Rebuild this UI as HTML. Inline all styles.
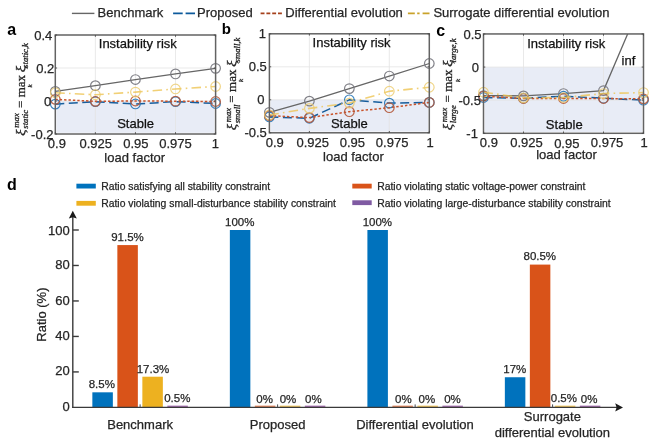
<!DOCTYPE html>
<html><head><meta charset="utf-8"><title>Stability comparison</title>
<style>
html,body{margin:0;padding:0;background:#fff;}
body{width:654px;height:447px;overflow:hidden;}
svg{display:block;will-change:transform;filter:blur(0.3px);font-family:"Liberation Sans", sans-serif;}
</style></head>
<body>
<svg width="654" height="447" viewBox="0 0 654 447">
<rect width="654" height="447" fill="#fff"/>
<line x1="71.9" y1="13.4" x2="94.4" y2="13.4" stroke="#666" stroke-width="1.4"/>
<text x="97.6" y="17.4" font-size="13" text-anchor="start" fill="#262626" stroke="#262626" stroke-width="0.25" >Benchmark</text>
<line x1="173.1" y1="13.4" x2="195.0" y2="13.4" stroke="#0c5a9c" stroke-width="1.8" stroke-dasharray="9.6,2.9"/>
<text x="197.1" y="17.4" font-size="13" text-anchor="start" fill="#262626" stroke="#262626" stroke-width="0.25" >Proposed</text>
<line x1="260.6" y1="13.4" x2="282.2" y2="13.4" stroke="#a5401c" stroke-width="1.8" stroke-dasharray="3.9,1.9"/>
<text x="285.3" y="17.4" font-size="13" text-anchor="start" fill="#262626" stroke="#262626" stroke-width="0.25" >Differential evolution</text>
<line x1="407.9" y1="13.4" x2="430.1" y2="13.4" stroke="#c9a22a" stroke-width="1.8" stroke-dasharray="6.9,2.4,2.4,3"/>
<text x="433.4" y="17.4" font-size="13" text-anchor="start" fill="#262626" stroke="#262626" stroke-width="0.25" >Surrogate differential evolution</text>
<text x="7.2" y="35.4" font-size="16" text-anchor="start" fill="#000" font-weight="bold">a</text>
<rect x="55.3" y="35" width="160.3" height="99" fill="#fff"/>
<rect x="56.5" y="101" width="157.9" height="31.8" fill="#e8ecf6"/>
<line x1="95.38" y1="35" x2="95.38" y2="134" stroke="#e3e3e3" stroke-width="0.8"/>
<line x1="135.45" y1="35" x2="135.45" y2="134" stroke="#e3e3e3" stroke-width="0.8"/>
<line x1="175.52" y1="35" x2="175.52" y2="134" stroke="#e3e3e3" stroke-width="0.8"/>
<line x1="55.3" y1="68" x2="215.6" y2="68" stroke="#e3e3e3" stroke-width="0.8"/>
<line x1="55.3" y1="101" x2="215.6" y2="101" stroke="#e3e3e3" stroke-width="0.8"/>
<text x="137.8" y="47.9" font-size="13" text-anchor="middle" fill="#111" stroke="#111" stroke-width="0.25" >Instability risk</text>
<text x="135.6" y="128.4" font-size="13" text-anchor="middle" fill="#111" stroke="#111" stroke-width="0.25" >Stable</text>
<clipPath id="clipa"><rect x="49.3" y="35" width="172.3" height="105"/></clipPath>
<g clip-path="url(#clipa)">
<polyline points="55.3,91.43 95.38,85.66 135.45,79.55 175.52,73.94 215.6,68.33" fill="none" stroke="#666666" stroke-width="1.3"/>
<circle cx="55.3" cy="91.43" r="4.8" fill="none" stroke="#7a7a82" stroke-width="1.2" stroke-opacity="0.95"/>
<circle cx="95.38" cy="85.66" r="4.8" fill="none" stroke="#7a7a82" stroke-width="1.2" stroke-opacity="0.95"/>
<circle cx="135.45" cy="79.55" r="4.8" fill="none" stroke="#7a7a82" stroke-width="1.2" stroke-opacity="0.95"/>
<circle cx="175.52" cy="73.94" r="4.8" fill="none" stroke="#7a7a82" stroke-width="1.2" stroke-opacity="0.95"/>
<circle cx="215.6" cy="68.33" r="4.8" fill="none" stroke="#7a7a82" stroke-width="1.2" stroke-opacity="0.95"/>
<polyline points="55.3,104.14 95.38,101.66 135.45,103.97 175.52,101.66 215.6,103.48" fill="none" stroke="#175d9c" stroke-width="1.5" stroke-dasharray="9,4.5"/>
<circle cx="55.3" cy="104.14" r="4.8" fill="none" stroke="#2677b8" stroke-width="1.2" stroke-opacity="0.9"/>
<circle cx="95.38" cy="101.66" r="4.8" fill="none" stroke="#2677b8" stroke-width="1.2" stroke-opacity="0.9"/>
<circle cx="135.45" cy="103.97" r="4.8" fill="none" stroke="#2677b8" stroke-width="1.2" stroke-opacity="0.9"/>
<circle cx="175.52" cy="101.66" r="4.8" fill="none" stroke="#2677b8" stroke-width="1.2" stroke-opacity="0.9"/>
<circle cx="215.6" cy="103.48" r="4.8" fill="none" stroke="#2677b8" stroke-width="1.2" stroke-opacity="0.9"/>
<polyline points="55.3,99.35 95.38,101.33 135.45,101 175.52,101.17 215.6,101.5" fill="none" stroke="#c9532a" stroke-width="1.5" stroke-dasharray="2.4,2"/>
<circle cx="55.3" cy="99.35" r="4.8" fill="none" stroke="#b4583a" stroke-width="1.2" stroke-opacity="0.9"/>
<circle cx="95.38" cy="101.33" r="4.8" fill="none" stroke="#b4583a" stroke-width="1.2" stroke-opacity="0.9"/>
<circle cx="135.45" cy="101" r="4.8" fill="none" stroke="#b4583a" stroke-width="1.2" stroke-opacity="0.9"/>
<circle cx="175.52" cy="101.17" r="4.8" fill="none" stroke="#b4583a" stroke-width="1.2" stroke-opacity="0.9"/>
<circle cx="215.6" cy="101.5" r="4.8" fill="none" stroke="#b4583a" stroke-width="1.2" stroke-opacity="0.9"/>
<polyline points="55.3,92.75 95.38,94.73 135.45,92.09 175.52,88.96 215.6,86.48" fill="none" stroke="#edc454" stroke-width="1.6" stroke-dasharray="9.5,4.2,1.6,4.2" stroke-opacity="0.8"/>
<circle cx="55.3" cy="92.75" r="4.8" fill="none" stroke="#eccb6a" stroke-width="1.2" stroke-opacity="0.8"/>
<circle cx="95.38" cy="94.73" r="4.8" fill="none" stroke="#eccb6a" stroke-width="1.2" stroke-opacity="0.8"/>
<circle cx="135.45" cy="92.09" r="4.8" fill="none" stroke="#eccb6a" stroke-width="1.2" stroke-opacity="0.8"/>
<circle cx="175.52" cy="88.96" r="4.8" fill="none" stroke="#eccb6a" stroke-width="1.2" stroke-opacity="0.8"/>
<circle cx="215.6" cy="86.48" r="4.8" fill="none" stroke="#eccb6a" stroke-width="1.2" stroke-opacity="0.8"/>
</g>
<rect x="55.3" y="35" width="160.3" height="99" fill="none" stroke="#636363" stroke-width="1.5"/>
<line x1="55.3" y1="134" x2="55.3" y2="132.2" stroke="#4a4a4a" stroke-width="0.9"/>
<line x1="55.3" y1="35" x2="55.3" y2="36.8" stroke="#4a4a4a" stroke-width="0.9"/>
<line x1="95.38" y1="134" x2="95.38" y2="132.2" stroke="#4a4a4a" stroke-width="0.9"/>
<line x1="95.38" y1="35" x2="95.38" y2="36.8" stroke="#4a4a4a" stroke-width="0.9"/>
<line x1="135.45" y1="134" x2="135.45" y2="132.2" stroke="#4a4a4a" stroke-width="0.9"/>
<line x1="135.45" y1="35" x2="135.45" y2="36.8" stroke="#4a4a4a" stroke-width="0.9"/>
<line x1="175.52" y1="134" x2="175.52" y2="132.2" stroke="#4a4a4a" stroke-width="0.9"/>
<line x1="175.52" y1="35" x2="175.52" y2="36.8" stroke="#4a4a4a" stroke-width="0.9"/>
<line x1="215.6" y1="134" x2="215.6" y2="132.2" stroke="#4a4a4a" stroke-width="0.9"/>
<line x1="215.6" y1="35" x2="215.6" y2="36.8" stroke="#4a4a4a" stroke-width="0.9"/>
<line x1="55.3" y1="35" x2="57.1" y2="35" stroke="#4a4a4a" stroke-width="0.9"/>
<line x1="215.6" y1="35" x2="213.8" y2="35" stroke="#4a4a4a" stroke-width="0.9"/>
<line x1="55.3" y1="68" x2="57.1" y2="68" stroke="#4a4a4a" stroke-width="0.9"/>
<line x1="215.6" y1="68" x2="213.8" y2="68" stroke="#4a4a4a" stroke-width="0.9"/>
<line x1="55.3" y1="101" x2="57.1" y2="101" stroke="#4a4a4a" stroke-width="0.9"/>
<line x1="215.6" y1="101" x2="213.8" y2="101" stroke="#4a4a4a" stroke-width="0.9"/>
<line x1="55.3" y1="134" x2="57.1" y2="134" stroke="#4a4a4a" stroke-width="0.9"/>
<line x1="215.6" y1="134" x2="213.8" y2="134" stroke="#4a4a4a" stroke-width="0.9"/>
<text x="56.9" y="148.3" font-size="13" text-anchor="middle" fill="#262626" stroke="#262626" stroke-width="0.25" >0.9</text>
<text x="95.78" y="148.3" font-size="13" text-anchor="middle" fill="#262626" stroke="#262626" stroke-width="0.25" >0.925</text>
<text x="135.95" y="148.3" font-size="13" text-anchor="middle" fill="#262626" stroke="#262626" stroke-width="0.25" >0.95</text>
<text x="175.52" y="148.3" font-size="13" text-anchor="middle" fill="#262626" stroke="#262626" stroke-width="0.25" >0.975</text>
<text x="215.4" y="148.3" font-size="13" text-anchor="middle" fill="#262626" stroke="#262626" stroke-width="0.25" >1</text>
<text x="52.3" y="39.65" font-size="13" text-anchor="end" fill="#262626" stroke="#262626" stroke-width="0.25" >0.4</text>
<text x="54.3" y="72.65" font-size="13" text-anchor="end" fill="#262626" stroke="#262626" stroke-width="0.25" >0.2</text>
<text x="51.2" y="105.65" font-size="13" text-anchor="end" fill="#262626" stroke="#262626" stroke-width="0.25" >0</text>
<text x="53.5" y="138.65" font-size="13" text-anchor="end" fill="#262626" stroke="#262626" stroke-width="0.25" >-0.2</text>
<text x="134.7" y="162.2" font-size="13" text-anchor="middle" fill="#262626" stroke="#262626" stroke-width="0.25" >load factor</text>
<g transform="translate(24.7,135.7) rotate(-90)" font-family="Liberation Serif, serif" fill="#262626" stroke="#262626" stroke-width="0.3">
<text x="0" y="0" font-size="13" font-style="italic" transform="scale(1.15,1)">&#958;</text>
<text x="8.0" y="-5.4" font-size="8.7" font-style="italic">max</text>
<text x="7.0" y="3.5" font-size="8.7" font-style="italic">static</text>
<text x="27.6" y="0" font-size="13">=</text>
<text x="38.4" y="0" font-size="13">max</text>
<text x="48.3" y="7.4" font-size="7" font-style="italic">k</text>
<text x="55.2" y="0" font-size="13" font-style="italic" transform="scale(1.15,1)">&#958;</text>
<text x="67.8" y="3.5" font-size="8.7" font-style="italic">static,k</text>
</g>
<text x="221.7" y="33.7" font-size="15" text-anchor="start" fill="#000" font-weight="bold">b</text>
<rect x="269.4" y="33.8" width="159.9" height="99" fill="#fff"/>
<rect x="270.6" y="99.8" width="157.5" height="31.8" fill="#e8ecf6"/>
<line x1="309.38" y1="33.8" x2="309.38" y2="132.8" stroke="#e3e3e3" stroke-width="0.8"/>
<line x1="349.35" y1="33.8" x2="349.35" y2="132.8" stroke="#e3e3e3" stroke-width="0.8"/>
<line x1="389.32" y1="33.8" x2="389.32" y2="132.8" stroke="#e3e3e3" stroke-width="0.8"/>
<line x1="269.4" y1="66.8" x2="429.3" y2="66.8" stroke="#e3e3e3" stroke-width="0.8"/>
<line x1="269.4" y1="99.8" x2="429.3" y2="99.8" stroke="#e3e3e3" stroke-width="0.8"/>
<text x="351.6" y="47.2" font-size="13" text-anchor="middle" fill="#111" stroke="#111" stroke-width="0.25" >Instability risk</text>
<text x="349.4" y="127.8" font-size="13" text-anchor="middle" fill="#111" stroke="#111" stroke-width="0.25" >Stable</text>
<clipPath id="clipb"><rect x="263.4" y="33.8" width="171.9" height="105"/></clipPath>
<g clip-path="url(#clipb)">
<polyline points="269.4,112.34 309.38,101.12 349.35,88.58 389.32,76.04 429.3,63.5" fill="none" stroke="#666666" stroke-width="1.3"/>
<circle cx="269.4" cy="112.34" r="4.8" fill="none" stroke="#7a7a82" stroke-width="1.2" stroke-opacity="0.95"/>
<circle cx="309.38" cy="101.12" r="4.8" fill="none" stroke="#7a7a82" stroke-width="1.2" stroke-opacity="0.95"/>
<circle cx="349.35" cy="88.58" r="4.8" fill="none" stroke="#7a7a82" stroke-width="1.2" stroke-opacity="0.95"/>
<circle cx="389.32" cy="76.04" r="4.8" fill="none" stroke="#7a7a82" stroke-width="1.2" stroke-opacity="0.95"/>
<circle cx="429.3" cy="63.5" r="4.8" fill="none" stroke="#7a7a82" stroke-width="1.2" stroke-opacity="0.95"/>
<polyline points="269.4,116.96 309.38,118.28 349.35,99.8 389.32,103.1 429.3,102.44" fill="none" stroke="#175d9c" stroke-width="1.5" stroke-dasharray="9,4.5"/>
<circle cx="269.4" cy="116.96" r="4.8" fill="none" stroke="#2677b8" stroke-width="1.2" stroke-opacity="0.9"/>
<circle cx="309.38" cy="118.28" r="4.8" fill="none" stroke="#2677b8" stroke-width="1.2" stroke-opacity="0.9"/>
<circle cx="349.35" cy="99.8" r="4.8" fill="none" stroke="#2677b8" stroke-width="1.2" stroke-opacity="0.9"/>
<circle cx="389.32" cy="103.1" r="4.8" fill="none" stroke="#2677b8" stroke-width="1.2" stroke-opacity="0.9"/>
<circle cx="429.3" cy="102.44" r="4.8" fill="none" stroke="#2677b8" stroke-width="1.2" stroke-opacity="0.9"/>
<polyline points="269.4,115.64 309.38,117.62 349.35,111.68 389.32,107.72 429.3,102.44" fill="none" stroke="#c9532a" stroke-width="1.5" stroke-dasharray="2.4,2"/>
<circle cx="269.4" cy="115.64" r="4.8" fill="none" stroke="#b4583a" stroke-width="1.2" stroke-opacity="0.9"/>
<circle cx="309.38" cy="117.62" r="4.8" fill="none" stroke="#b4583a" stroke-width="1.2" stroke-opacity="0.9"/>
<circle cx="349.35" cy="111.68" r="4.8" fill="none" stroke="#b4583a" stroke-width="1.2" stroke-opacity="0.9"/>
<circle cx="389.32" cy="107.72" r="4.8" fill="none" stroke="#b4583a" stroke-width="1.2" stroke-opacity="0.9"/>
<circle cx="429.3" cy="102.44" r="4.8" fill="none" stroke="#b4583a" stroke-width="1.2" stroke-opacity="0.9"/>
<polyline points="269.4,114.98 309.38,108.38 349.35,103.1 389.32,91.22 429.3,87.26" fill="none" stroke="#edc454" stroke-width="1.6" stroke-dasharray="9.5,4.2,1.6,4.2" stroke-opacity="0.8"/>
<circle cx="269.4" cy="114.98" r="4.8" fill="none" stroke="#eccb6a" stroke-width="1.2" stroke-opacity="0.8"/>
<circle cx="309.38" cy="108.38" r="4.8" fill="none" stroke="#eccb6a" stroke-width="1.2" stroke-opacity="0.8"/>
<circle cx="349.35" cy="103.1" r="4.8" fill="none" stroke="#eccb6a" stroke-width="1.2" stroke-opacity="0.8"/>
<circle cx="389.32" cy="91.22" r="4.8" fill="none" stroke="#eccb6a" stroke-width="1.2" stroke-opacity="0.8"/>
<circle cx="429.3" cy="87.26" r="4.8" fill="none" stroke="#eccb6a" stroke-width="1.2" stroke-opacity="0.8"/>
</g>
<rect x="269.4" y="33.8" width="159.9" height="99" fill="none" stroke="#636363" stroke-width="1.5"/>
<line x1="269.4" y1="132.8" x2="269.4" y2="131" stroke="#4a4a4a" stroke-width="0.9"/>
<line x1="269.4" y1="33.8" x2="269.4" y2="35.6" stroke="#4a4a4a" stroke-width="0.9"/>
<line x1="309.38" y1="132.8" x2="309.38" y2="131" stroke="#4a4a4a" stroke-width="0.9"/>
<line x1="309.38" y1="33.8" x2="309.38" y2="35.6" stroke="#4a4a4a" stroke-width="0.9"/>
<line x1="349.35" y1="132.8" x2="349.35" y2="131" stroke="#4a4a4a" stroke-width="0.9"/>
<line x1="349.35" y1="33.8" x2="349.35" y2="35.6" stroke="#4a4a4a" stroke-width="0.9"/>
<line x1="389.32" y1="132.8" x2="389.32" y2="131" stroke="#4a4a4a" stroke-width="0.9"/>
<line x1="389.32" y1="33.8" x2="389.32" y2="35.6" stroke="#4a4a4a" stroke-width="0.9"/>
<line x1="429.3" y1="132.8" x2="429.3" y2="131" stroke="#4a4a4a" stroke-width="0.9"/>
<line x1="429.3" y1="33.8" x2="429.3" y2="35.6" stroke="#4a4a4a" stroke-width="0.9"/>
<line x1="269.4" y1="33.8" x2="271.2" y2="33.8" stroke="#4a4a4a" stroke-width="0.9"/>
<line x1="429.3" y1="33.8" x2="427.5" y2="33.8" stroke="#4a4a4a" stroke-width="0.9"/>
<line x1="269.4" y1="66.8" x2="271.2" y2="66.8" stroke="#4a4a4a" stroke-width="0.9"/>
<line x1="429.3" y1="66.8" x2="427.5" y2="66.8" stroke="#4a4a4a" stroke-width="0.9"/>
<line x1="269.4" y1="99.8" x2="271.2" y2="99.8" stroke="#4a4a4a" stroke-width="0.9"/>
<line x1="429.3" y1="99.8" x2="427.5" y2="99.8" stroke="#4a4a4a" stroke-width="0.9"/>
<line x1="269.4" y1="132.8" x2="271.2" y2="132.8" stroke="#4a4a4a" stroke-width="0.9"/>
<line x1="429.3" y1="132.8" x2="427.5" y2="132.8" stroke="#4a4a4a" stroke-width="0.9"/>
<text x="274.8" y="146.5" font-size="13" text-anchor="middle" fill="#262626" stroke="#262626" stroke-width="0.25" >0.9</text>
<text x="312.68" y="146.5" font-size="13" text-anchor="middle" fill="#262626" stroke="#262626" stroke-width="0.25" >0.925</text>
<text x="352.45" y="146.5" font-size="13" text-anchor="middle" fill="#262626" stroke="#262626" stroke-width="0.25" >0.95</text>
<text x="392.12" y="146.5" font-size="13" text-anchor="middle" fill="#262626" stroke="#262626" stroke-width="0.25" >0.975</text>
<text x="430" y="146.5" font-size="13" text-anchor="middle" fill="#262626" stroke="#262626" stroke-width="0.25" >1</text>
<text x="266" y="38.45" font-size="13" text-anchor="end" fill="#262626" stroke="#262626" stroke-width="0.25" >1</text>
<text x="266.8" y="71.45" font-size="13" text-anchor="end" fill="#262626" stroke="#262626" stroke-width="0.25" >0.5</text>
<text x="264.6" y="104.45" font-size="13" text-anchor="end" fill="#262626" stroke="#262626" stroke-width="0.25" >0</text>
<text x="266.8" y="137.45" font-size="13" text-anchor="end" fill="#262626" stroke="#262626" stroke-width="0.25" >-0.5</text>
<text x="353.4" y="160.6" font-size="13" text-anchor="middle" fill="#262626" stroke="#262626" stroke-width="0.25" >load factor</text>
<g transform="translate(236,130.3) rotate(-90)" font-family="Liberation Serif, serif" fill="#262626" stroke="#262626" stroke-width="0.3">
<text x="0" y="0" font-size="13" font-style="italic" transform="scale(1.15,1)">&#958;</text>
<text x="8.0" y="-5.4" font-size="8.7" font-style="italic">max</text>
<text x="7.0" y="3.5" font-size="8.7" font-style="italic">small</text>
<text x="27.6" y="0" font-size="13">=</text>
<text x="38.4" y="0" font-size="13">max</text>
<text x="48.3" y="7.4" font-size="7" font-style="italic">k</text>
<text x="55.2" y="0" font-size="13" font-style="italic" transform="scale(1.15,1)">&#958;</text>
<text x="67.8" y="3.5" font-size="8.7" font-style="italic">small,k</text>
</g>
<text x="436.2" y="35.5" font-size="16" text-anchor="start" fill="#000" font-weight="bold">c</text>
<rect x="483.5" y="33.95" width="160" height="99.35" fill="#fff"/>
<rect x="484.7" y="67.07" width="157.6" height="65.03" fill="#e8ecf6"/>
<line x1="523.5" y1="33.95" x2="523.5" y2="133.3" stroke="#e3e3e3" stroke-width="0.8"/>
<line x1="563.5" y1="33.95" x2="563.5" y2="133.3" stroke="#e3e3e3" stroke-width="0.8"/>
<line x1="603.5" y1="33.95" x2="603.5" y2="133.3" stroke="#e3e3e3" stroke-width="0.8"/>
<line x1="483.5" y1="67.07" x2="643.5" y2="67.07" stroke="#e3e3e3" stroke-width="0.8"/>
<line x1="483.5" y1="100.18" x2="643.5" y2="100.18" stroke="#e3e3e3" stroke-width="0.8"/>
<text x="566.2" y="47.6" font-size="13" text-anchor="middle" fill="#111" stroke="#111" stroke-width="0.25" >Instability risk</text>
<text x="564.3" y="128.7" font-size="13" text-anchor="middle" fill="#111" stroke="#111" stroke-width="0.25" >Stable</text>
<clipPath id="clipc"><rect x="477.5" y="33.95" width="172" height="105.35"/></clipPath>
<g clip-path="url(#clipc)">
<polyline points="483.5,95.55 523.5,95.88 563.5,93.56 603.5,90.58 628.5,31.95" fill="none" stroke="#666666" stroke-width="1.3"/>
<circle cx="483.5" cy="95.55" r="4.8" fill="none" stroke="#7a7a82" stroke-width="1.2" stroke-opacity="0.95"/>
<circle cx="523.5" cy="95.88" r="4.8" fill="none" stroke="#7a7a82" stroke-width="1.2" stroke-opacity="0.95"/>
<circle cx="563.5" cy="93.56" r="4.8" fill="none" stroke="#7a7a82" stroke-width="1.2" stroke-opacity="0.95"/>
<circle cx="603.5" cy="90.58" r="4.8" fill="none" stroke="#7a7a82" stroke-width="1.2" stroke-opacity="0.95"/>
<polyline points="483.5,97.53 523.5,98.2 563.5,96.21 603.5,98.2 643.5,100.18" fill="none" stroke="#175d9c" stroke-width="1.5" stroke-dasharray="9,4.5"/>
<circle cx="483.5" cy="97.53" r="4.8" fill="none" stroke="#2677b8" stroke-width="1.2" stroke-opacity="0.9"/>
<circle cx="523.5" cy="98.2" r="4.8" fill="none" stroke="#2677b8" stroke-width="1.2" stroke-opacity="0.9"/>
<circle cx="563.5" cy="96.21" r="4.8" fill="none" stroke="#2677b8" stroke-width="1.2" stroke-opacity="0.9"/>
<circle cx="603.5" cy="98.2" r="4.8" fill="none" stroke="#2677b8" stroke-width="1.2" stroke-opacity="0.9"/>
<circle cx="643.5" cy="100.18" r="4.8" fill="none" stroke="#2677b8" stroke-width="1.2" stroke-opacity="0.9"/>
<polyline points="483.5,96.21 523.5,98.53 563.5,98.53 603.5,98.53 643.5,98.86" fill="none" stroke="#c9532a" stroke-width="1.5" stroke-dasharray="2.4,2"/>
<circle cx="483.5" cy="96.21" r="4.8" fill="none" stroke="#b4583a" stroke-width="1.2" stroke-opacity="0.9"/>
<circle cx="523.5" cy="98.53" r="4.8" fill="none" stroke="#b4583a" stroke-width="1.2" stroke-opacity="0.9"/>
<circle cx="563.5" cy="98.53" r="4.8" fill="none" stroke="#b4583a" stroke-width="1.2" stroke-opacity="0.9"/>
<circle cx="603.5" cy="98.53" r="4.8" fill="none" stroke="#b4583a" stroke-width="1.2" stroke-opacity="0.9"/>
<circle cx="643.5" cy="98.86" r="4.8" fill="none" stroke="#b4583a" stroke-width="1.2" stroke-opacity="0.9"/>
<polyline points="483.5,92.24 523.5,97.87 563.5,97.53 603.5,93.56 643.5,92.57" fill="none" stroke="#edc454" stroke-width="1.6" stroke-dasharray="9.5,4.2,1.6,4.2" stroke-opacity="0.8"/>
<circle cx="483.5" cy="92.24" r="4.8" fill="none" stroke="#eccb6a" stroke-width="1.2" stroke-opacity="0.8"/>
<circle cx="523.5" cy="97.87" r="4.8" fill="none" stroke="#eccb6a" stroke-width="1.2" stroke-opacity="0.8"/>
<circle cx="563.5" cy="97.53" r="4.8" fill="none" stroke="#eccb6a" stroke-width="1.2" stroke-opacity="0.8"/>
<circle cx="603.5" cy="93.56" r="4.8" fill="none" stroke="#eccb6a" stroke-width="1.2" stroke-opacity="0.8"/>
<circle cx="643.5" cy="92.57" r="4.8" fill="none" stroke="#eccb6a" stroke-width="1.2" stroke-opacity="0.8"/>
</g>
<rect x="483.5" y="33.95" width="160" height="99.35" fill="none" stroke="#636363" stroke-width="1.5"/>
<line x1="483.5" y1="133.3" x2="483.5" y2="131.5" stroke="#4a4a4a" stroke-width="0.9"/>
<line x1="483.5" y1="33.95" x2="483.5" y2="35.75" stroke="#4a4a4a" stroke-width="0.9"/>
<line x1="523.5" y1="133.3" x2="523.5" y2="131.5" stroke="#4a4a4a" stroke-width="0.9"/>
<line x1="523.5" y1="33.95" x2="523.5" y2="35.75" stroke="#4a4a4a" stroke-width="0.9"/>
<line x1="563.5" y1="133.3" x2="563.5" y2="131.5" stroke="#4a4a4a" stroke-width="0.9"/>
<line x1="563.5" y1="33.95" x2="563.5" y2="35.75" stroke="#4a4a4a" stroke-width="0.9"/>
<line x1="603.5" y1="133.3" x2="603.5" y2="131.5" stroke="#4a4a4a" stroke-width="0.9"/>
<line x1="603.5" y1="33.95" x2="603.5" y2="35.75" stroke="#4a4a4a" stroke-width="0.9"/>
<line x1="643.5" y1="133.3" x2="643.5" y2="131.5" stroke="#4a4a4a" stroke-width="0.9"/>
<line x1="643.5" y1="33.95" x2="643.5" y2="35.75" stroke="#4a4a4a" stroke-width="0.9"/>
<line x1="483.5" y1="33.95" x2="485.3" y2="33.95" stroke="#4a4a4a" stroke-width="0.9"/>
<line x1="643.5" y1="33.95" x2="641.7" y2="33.95" stroke="#4a4a4a" stroke-width="0.9"/>
<line x1="483.5" y1="67.07" x2="485.3" y2="67.07" stroke="#4a4a4a" stroke-width="0.9"/>
<line x1="643.5" y1="67.07" x2="641.7" y2="67.07" stroke="#4a4a4a" stroke-width="0.9"/>
<line x1="483.5" y1="100.18" x2="485.3" y2="100.18" stroke="#4a4a4a" stroke-width="0.9"/>
<line x1="643.5" y1="100.18" x2="641.7" y2="100.18" stroke="#4a4a4a" stroke-width="0.9"/>
<line x1="483.5" y1="133.3" x2="485.3" y2="133.3" stroke="#4a4a4a" stroke-width="0.9"/>
<line x1="643.5" y1="133.3" x2="641.7" y2="133.3" stroke="#4a4a4a" stroke-width="0.9"/>
<text x="488.9" y="146.8" font-size="13" text-anchor="middle" fill="#262626" stroke="#262626" stroke-width="0.25" >0.9</text>
<text x="526.5" y="146.8" font-size="13" text-anchor="middle" fill="#262626" stroke="#262626" stroke-width="0.25" >0.925</text>
<text x="566.8" y="148.1" font-size="13" text-anchor="middle" fill="#262626" stroke="#262626" stroke-width="0.25" >0.95</text>
<text x="607.1" y="146.8" font-size="13" text-anchor="middle" fill="#262626" stroke="#262626" stroke-width="0.25" >0.975</text>
<text x="644.1" y="146.8" font-size="13" text-anchor="middle" fill="#262626" stroke="#262626" stroke-width="0.25" >1</text>
<text x="481.5" y="38.6" font-size="13" text-anchor="end" fill="#262626" stroke="#262626" stroke-width="0.25" >0.5</text>
<text x="479.1" y="71.72" font-size="13" text-anchor="end" fill="#262626" stroke="#262626" stroke-width="0.25" >0</text>
<text x="480.9" y="104.83" font-size="13" text-anchor="end" fill="#262626" stroke="#262626" stroke-width="0.25" >-0.5</text>
<text x="477.9" y="137.95" font-size="13" text-anchor="end" fill="#262626" stroke="#262626" stroke-width="0.25" >-1</text>
<text x="566.5" y="159.1" font-size="13" text-anchor="middle" fill="#262626" stroke="#262626" stroke-width="0.25" >load factor</text>
<g transform="translate(452.4,130.2) rotate(-90)" font-family="Liberation Serif, serif" fill="#262626" stroke="#262626" stroke-width="0.3">
<text x="0" y="0" font-size="13" font-style="italic" transform="scale(1.15,1)">&#958;</text>
<text x="8.0" y="-5.4" font-size="8.7" font-style="italic">max</text>
<text x="7.0" y="3.5" font-size="8.7" font-style="italic">large</text>
<text x="27.6" y="0" font-size="13">=</text>
<text x="38.4" y="0" font-size="13">max</text>
<text x="48.3" y="7.4" font-size="7" font-style="italic">k</text>
<text x="55.2" y="0" font-size="13" font-style="italic" transform="scale(1.15,1)">&#958;</text>
<text x="67.8" y="3.5" font-size="8.7" font-style="italic">large,k</text>
</g>
<text x="621.6" y="64.9" font-size="13" text-anchor="start" fill="#111" stroke="#111" stroke-width="0.25" >inf</text>
<text x="7" y="189.8" font-size="16" text-anchor="start" fill="#000" font-weight="bold">d</text>
<rect x="76.4" y="183.7" width="19.4" height="4.8" fill="#0072BD"/>
<text x="101.2" y="189.9" font-size="10.38" text-anchor="start" fill="#262626" stroke="#262626" stroke-width="0.25" >Ratio satisfying all stability constraint</text>
<rect x="76.4" y="200.9" width="19.4" height="4.8" fill="#EDB120"/>
<text x="101.2" y="207.1" font-size="10.38" text-anchor="start" fill="#262626" stroke="#262626" stroke-width="0.25" >Ratio violating small-disturbance stability constraint</text>
<rect x="352.3" y="183.7" width="19.4" height="4.8" fill="#D95319"/>
<text x="377.2" y="189.9" font-size="10.38" text-anchor="start" fill="#262626" stroke="#262626" stroke-width="0.25" >Ratio violating static voltage-power constraint</text>
<rect x="352.3" y="200.3" width="19.4" height="4.8" fill="#7f5aa2"/>
<text x="377.2" y="207.1" font-size="10.38" text-anchor="start" fill="#262626" stroke="#262626" stroke-width="0.25" >Ratio violating large-disturbance stability constraint</text>
<line x1="72.8" y1="408.0" x2="72.8" y2="216" stroke="#3a3a3a" stroke-width="1.4"/>
<polygon points="72.8,210.7 76.8,218.6 72.8,217.2 68.8,218.6" fill="#1a1a1a"/>
<text x="69.8" y="411.4" font-size="13" text-anchor="end" fill="#262626" stroke="#262626" stroke-width="0.25" >0</text>
<line x1="72.8" y1="371.92" x2="78.8" y2="371.92" stroke="#3a3a3a" stroke-width="1.4"/>
<text x="69.8" y="375.1" font-size="13" text-anchor="end" fill="#262626" stroke="#262626" stroke-width="0.25" >20</text>
<line x1="72.8" y1="336.44" x2="78.8" y2="336.44" stroke="#3a3a3a" stroke-width="1.4"/>
<text x="69.8" y="339.8" font-size="13" text-anchor="end" fill="#262626" stroke="#262626" stroke-width="0.25" >40</text>
<line x1="72.8" y1="300.96" x2="78.8" y2="300.96" stroke="#3a3a3a" stroke-width="1.4"/>
<text x="69.8" y="304.7" font-size="13" text-anchor="end" fill="#262626" stroke="#262626" stroke-width="0.25" >60</text>
<line x1="72.8" y1="265.48" x2="78.8" y2="265.48" stroke="#3a3a3a" stroke-width="1.4"/>
<text x="69.8" y="269" font-size="13" text-anchor="end" fill="#262626" stroke="#262626" stroke-width="0.25" >80</text>
<line x1="72.8" y1="230" x2="78.8" y2="230" stroke="#3a3a3a" stroke-width="1.4"/>
<text x="69.8" y="234.9" font-size="13" text-anchor="end" fill="#262626" stroke="#262626" stroke-width="0.25" >100</text>
<text transform="translate(45.6,314.6) rotate(-90)" x="0" y="0" font-size="13" text-anchor="middle" fill="#262626" stroke="#262626" stroke-width="0.25">Ratio (%)</text>
<rect x="92.35" y="392.32" width="20.5" height="15.08" fill="#0072BD"/>
<text x="101.8" y="388.22" font-size="11.5" text-anchor="middle" fill="#262626" stroke="#262626" stroke-width="0.25" >8.5%</text>
<rect x="117.35" y="245.08" width="20.5" height="162.32" fill="#D95319"/>
<text x="127.5" y="240.98" font-size="11.5" text-anchor="middle" fill="#262626" stroke="#262626" stroke-width="0.25" >91.5%</text>
<rect x="142.35" y="376.71" width="20.5" height="30.69" fill="#EDB120"/>
<text x="152.95" y="372.61" font-size="11.5" text-anchor="middle" fill="#262626" stroke="#262626" stroke-width="0.25" >17.3%</text>
<rect x="167.35" y="405.7" width="20.5" height="1.1" fill="#7E2F8E" fill-opacity="0.85"/>
<text x="177.3" y="402.41" font-size="11.5" text-anchor="middle" fill="#262626" stroke="#262626" stroke-width="0.25" >0.5%</text>
<rect x="229.85" y="230" width="20.5" height="177.4" fill="#0072BD"/>
<text x="239.75" y="225.9" font-size="11.5" text-anchor="middle" fill="#262626" stroke="#262626" stroke-width="0.25" >100%</text>
<rect x="254.85" y="405.7" width="20.5" height="1.1" fill="#D95319" fill-opacity="0.85"/>
<text x="264.65" y="403.3" font-size="11.5" text-anchor="middle" fill="#262626" stroke="#262626" stroke-width="0.25" >0%</text>
<rect x="279.85" y="405.7" width="20.5" height="1.1" fill="#EDB120" fill-opacity="0.85"/>
<text x="287.95" y="403.3" font-size="11.5" text-anchor="middle" fill="#262626" stroke="#262626" stroke-width="0.25" >0%</text>
<rect x="304.85" y="405.7" width="20.5" height="1.1" fill="#7E2F8E" fill-opacity="0.85"/>
<text x="313.35" y="403.3" font-size="11.5" text-anchor="middle" fill="#262626" stroke="#262626" stroke-width="0.25" >0%</text>
<rect x="367.4" y="230" width="20.5" height="177.4" fill="#0072BD"/>
<text x="377.35" y="225.9" font-size="11.5" text-anchor="middle" fill="#262626" stroke="#262626" stroke-width="0.25" >100%</text>
<rect x="392.4" y="405.7" width="20.5" height="1.1" fill="#D95319" fill-opacity="0.85"/>
<text x="403.35" y="403.3" font-size="11.5" text-anchor="middle" fill="#262626" stroke="#262626" stroke-width="0.25" >0%</text>
<rect x="417.4" y="405.7" width="20.5" height="1.1" fill="#EDB120" fill-opacity="0.85"/>
<text x="426.85" y="403.3" font-size="11.5" text-anchor="middle" fill="#262626" stroke="#262626" stroke-width="0.25" >0%</text>
<rect x="442.4" y="405.7" width="20.5" height="1.1" fill="#7E2F8E" fill-opacity="0.85"/>
<text x="452.45" y="403.3" font-size="11.5" text-anchor="middle" fill="#262626" stroke="#262626" stroke-width="0.25" >0%</text>
<rect x="504.85" y="377.24" width="20.5" height="30.16" fill="#0072BD"/>
<text x="514.85" y="373.14" font-size="11.5" text-anchor="middle" fill="#262626" stroke="#262626" stroke-width="0.25" >17%</text>
<rect x="529.85" y="264.59" width="20.5" height="142.81" fill="#D95319"/>
<text x="539.8" y="260.49" font-size="11.5" text-anchor="middle" fill="#262626" stroke="#262626" stroke-width="0.25" >80.5%</text>
<rect x="554.85" y="405.7" width="20.5" height="1.1" fill="#EDB120" fill-opacity="0.85"/>
<text x="563.85" y="402.41" font-size="11.5" text-anchor="middle" fill="#262626" stroke="#262626" stroke-width="0.25" >0.5%</text>
<rect x="579.85" y="405.7" width="20.5" height="1.1" fill="#7E2F8E" fill-opacity="0.85"/>
<text x="589.05" y="403.3" font-size="11.5" text-anchor="middle" fill="#262626" stroke="#262626" stroke-width="0.25" >0%</text>
<line x1="72.1" y1="407.4" x2="617" y2="407.4" stroke="#3a3a3a" stroke-width="1.3"/>
<polygon points="623.0,407.4 615.2,403.2 616.6,407.4 615.2,411.59999999999997" fill="#1a1a1a"/>
<line x1="140.1" y1="407.4" x2="140.1" y2="404.4" stroke="#4a4a4a" stroke-width="1"/>
<line x1="277.6" y1="407.4" x2="277.6" y2="404.4" stroke="#4a4a4a" stroke-width="1"/>
<line x1="415.15" y1="407.4" x2="415.15" y2="404.4" stroke="#4a4a4a" stroke-width="1"/>
<line x1="552.6" y1="407.4" x2="552.6" y2="404.4" stroke="#4a4a4a" stroke-width="1"/>
<text x="140.1" y="428.5" font-size="13" text-anchor="middle" fill="#262626" stroke="#262626" stroke-width="0.25" >Benchmark</text>
<text x="277.6" y="428.5" font-size="13" text-anchor="middle" fill="#262626" stroke="#262626" stroke-width="0.25" >Proposed</text>
<text x="415" y="428.5" font-size="13" text-anchor="middle" fill="#262626" stroke="#262626" stroke-width="0.25" >Differential evolution</text>
<text x="552.4" y="421.3" font-size="13" text-anchor="middle" fill="#262626" stroke="#262626" stroke-width="0.25" >Surrogate</text>
<text x="552.4" y="436.8" font-size="13" text-anchor="middle" fill="#262626" stroke="#262626" stroke-width="0.25" >differential evolution</text>
</svg>
</body></html>
